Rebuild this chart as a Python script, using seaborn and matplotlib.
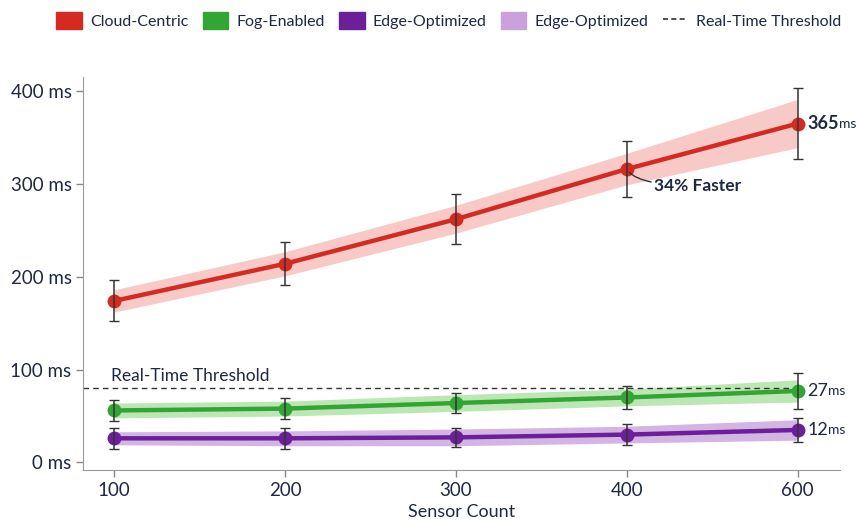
import matplotlib
matplotlib.use("Agg")
import matplotlib.pyplot as plt
import seaborn as sns
import pandas as pd
from matplotlib.patches import Patch
from matplotlib.lines import Line2D

# data
sensors = ["100", "200", "300", "400", "600"]
cloud = [174, 214, 262, 316, 365]
cloud_err = [22, 23, 27, 30, 38]
cloud_band = [12, 13, 15, 17, 26]
fog = [56, 58, 64, 70, 77]
fog_err = [11, 11, 11, 12, 19]
fog_band = [8, 8, 9, 9, 12]
edge = [26, 26, 27, 30, 35]
edge_err = [11, 11, 10, 11, 13]
edge_band = [7, 8, 9, 9, 11]
threshold = 80

red, red_l = "#d42a22", "#f6bdbb"
green, green_l = "#33a534", "#ace0a0"
purple, purple_l = "#6b1f98", "#c9a2dd"
ink = "#1e2842"

sns.set_style("ticks")
plt.rcParams["font.family"] = ["Lato", "DejaVu Sans"]

pos = list(range(len(sensors)))
long = pd.DataFrame({
    "pos": pos * 3,
    "latency": cloud + fog + edge,
    "arch": ["Cloud-Centric"] * 5 + ["Fog-Enabled"] * 5 + ["Edge-Optimized"] * 5,
})

fig = plt.figure(figsize=(8.6, 5.25), dpi=100)
ax = fig.add_axes([0.097, 0.105, 0.88, 0.748])

for vals, band, col in [(cloud, cloud_band, red_l), (fog, fog_band, green_l), (edge, edge_band, purple_l)]:
    ax.fill_between(pos, [v - b for v, b in zip(vals, band)], [v + b for v, b in zip(vals, band)],
                    color=col, alpha=0.8, lw=0, zorder=1)

ax.hlines(threshold, -0.18, pos[-1], color="#333333", ls=(0, (4, 3)), lw=1.0, zorder=2)

sns.lineplot(data=long, x="pos", y="latency", hue="arch",
             palette={"Cloud-Centric": red, "Fog-Enabled": green, "Edge-Optimized": purple},
             marker="o", markersize=10, markeredgewidth=0, lw=3.2, legend=False, ax=ax, zorder=3)

for vals, err in [(cloud, cloud_err), (fog, fog_err), (edge, edge_err)]:
    ax.errorbar(pos, vals, yerr=err, fmt="none", ecolor="#333333", elinewidth=1.1, capsize=3.5, zorder=4)

ax.set_xlim(-0.18, 4.25)
ax.set_ylim(-8, 415)
ax.set_xticks(pos, sensors)
ax.set_yticks([0, 100, 200, 300, 400], ["0 ms", "100 ms", "200 ms", "300 ms", "400 ms"])
ax.tick_params(labelsize=13.5, colors="#888888", labelcolor=ink, length=5, width=1)
ax.set_xlabel("Sensor Count", fontsize=13, color=ink, labelpad=4)
ax.set_ylabel("")
sns.despine(ax=ax)
for s in ["left", "bottom"]:
    ax.spines[s].set_color("#999999")


def value_label(y, num, bold):
    t = ax.annotate(num, xy=(4, y), xytext=(7, 0), textcoords="offset points",
                    fontsize=13, fontweight="bold" if bold else "normal", color=ink, va="center")
    ax.annotate("ms", xy=(1, 0.22), xycoords=t, fontsize=10, color=ink, va="baseline")


value_label(cloud[4], "365", True)
value_label(fog[4], "27", False)
value_label(edge[4], "12", False)

ax.annotate("34% Faster", xy=(3, cloud[3]), xytext=(20, -12), textcoords="offset points",
            fontsize=12.5, fontweight="bold", color=ink, va="center",
            arrowprops=dict(arrowstyle="-", color="#333333", lw=1, shrinkA=0, shrinkB=3,
                            connectionstyle="angle3,angleA=0,angleB=-60"))
ax.text(-0.02, threshold + 4, "Real-Time Threshold", fontsize=12.5, color=ink, va="bottom")

handles = [
    Patch(color=red, label="Cloud-Centric"),
    Patch(color=green, label="Fog-Enabled"),
    Patch(color=purple, label="Edge-Optimized"),
    Patch(color=purple_l, label="Edge-Optimized"),
    Line2D([], [], color="#333333", ls=(0, (3, 2)), lw=1.2, label="Real-Time Threshold"),
]
fig.legend(handles=handles, loc="upper right", bbox_to_anchor=(0.995, 1.005), ncol=5, frameon=False,
           fontsize=11.5, handlelength=1.6, handleheight=1.3, columnspacing=0.9, handletextpad=0.5,
           labelcolor=ink)

fig.savefig("out.png", dpi=100)
